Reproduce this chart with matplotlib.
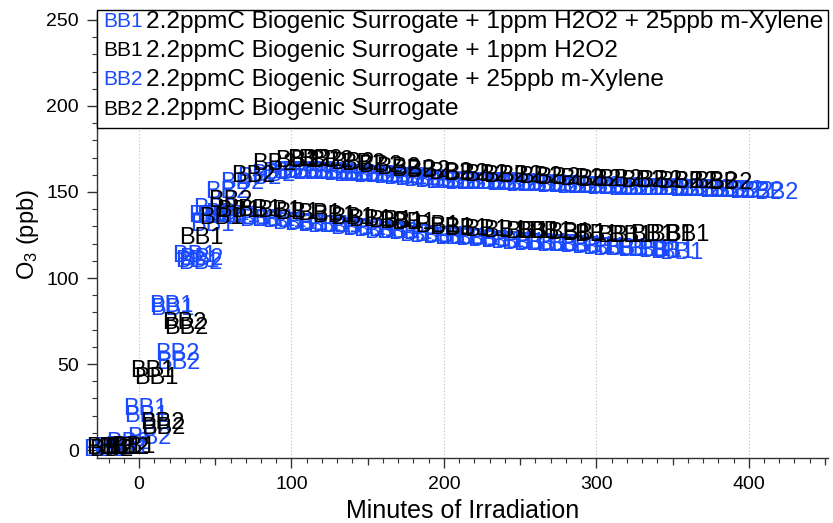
import matplotlib
matplotlib.use("Agg")
import matplotlib.pyplot as plt
from matplotlib.patches import Rectangle
from matplotlib.ticker import MultipleLocator

plt.rcParams["font.family"] = ["Liberation Sans", "DejaVu Sans"]
plt.rcParams["mathtext.fontset"] = "custom"
plt.rcParams["mathtext.rm"] = "Liberation Sans"
plt.rcParams["mathtext.it"] = "Liberation Sans"

# O3 (ppb) vs minutes of irradiation
bb1_xyl_t = [-22, -15, -8, 4, 5, 21, 22, 36, 38, 48, 52, 58, 65, 72, 80, 88, 95,
             102, 110, 118, 125, 132, 140, 148, 155, 162, 170, 178, 185, 192, 200,
             208, 215, 222, 230, 238, 245, 252, 260, 268, 275, 282, 290, 298, 305,
             312, 320, 328, 335, 342, 350, 356]
bb1_xyl_o3 = [0, 1, 2, 24, 20, 84, 82, 113, 110, 131, 136, 137, 136, 135, 134, 133.5, 133,
              132, 131.5, 131, 130.5, 130, 129, 128.5, 128, 127, 126.5, 126, 125, 124.5, 124,
              123.5, 123, 122.5, 122, 121.5, 121, 120.5, 120, 119.5, 119, 119, 118.5, 118, 117.5,
              117, 117, 116.5, 116, 115.5, 115, 114.5]

bb1_t = [-20, -12, -4, 9, 11, 41, 54, 65, 79, 92, 104, 118, 128, 140, 152, 165, 172,
         180, 196, 205, 215, 228, 240, 255, 262, 270, 282, 292, 300, 315, 322, 337, 349, 360]
bb1_o3 = [1, 1, 2, 46, 42, 123, 135, 139, 139.5, 139, 138, 137, 136, 135, 134, 133, 132.5,
          132, 130, 129, 128.5, 128, 127.5, 127, 127, 126.5, 126, 125.5, 125, 124.5, 124.5,
          125, 125, 125]

bb2_xyl_t = [-7, 7, 25, 26, 40, 41, 47, 50, 58, 68, 79, 88, 95, 102, 108, 115, 122, 128,
             135, 142, 148, 155, 162, 168, 175, 182, 188, 195, 202, 208, 215, 222, 228, 235,
             242, 248, 255, 262, 268, 275, 282, 288, 295, 302, 308, 315, 322, 328, 335, 342,
             348, 355, 362, 368, 375, 382, 388, 395, 402, 408, 418]
bb2_xyl_o3 = [4, 7, 56, 50.5, 109, 111, 136, 140, 150, 155, 158, 160, 161, 161.5, 161.5,
              161.5, 161, 161, 160.5, 160, 160, 159.5, 159, 158.5, 158, 157.5, 157, 156.5,
              156, 156, 155.5, 155.5, 155, 155, 154.5, 154.5, 154, 154, 154, 153.5, 153.5,
              153, 153, 153, 152.5, 152.5, 152, 152, 152, 151.5, 151.5, 151.5, 151, 151, 151,
              150.5, 150.5, 150.5, 150, 150, 149.5]

bb2_t = [-18, -8, 15, 16, 30, 31, 60, 75, 89, 104, 112, 119, 126, 140, 147, 158, 170, 180,
         190, 204, 215, 228, 240, 250, 263, 275, 290, 302, 316, 330, 342, 355, 365, 378, 388]
bb2_o3 = [0, 1, 15.5, 13, 74, 71, 145, 159, 166, 168, 168.5, 168.5, 168, 167, 166.5, 165,
          164, 163, 162, 161, 160.5, 160, 159.5, 159, 158.5, 158, 157.5, 157, 157, 156.5,
          156.5, 156, 156, 156, 155.5]

labels = ["BB1", "BB1", "BB2", "BB2"]
descriptions = [
    "2.2ppmC Biogenic Surrogate + 1ppm H2O2 + 25ppb m-Xylene",
    "2.2ppmC Biogenic Surrogate + 1ppm H2O2",
    "2.2ppmC Biogenic Surrogate + 25ppb m-Xylene",
    "2.2ppmC Biogenic Surrogate",
]
blue = "#1a4aff"
colors = [blue, "black", blue, "black"]

series = [
    (bb1_xyl_t, bb1_xyl_o3, 0),
    (bb2_xyl_t, bb2_xyl_o3, 2),
    (bb1_t, bb1_o3, 1),
    (bb2_t, bb2_o3, 3),
]

fig = plt.figure(figsize=(8.33, 5.23), dpi=100)
ax = fig.add_axes([97 / 833, 65 / 523, 731 / 833, 446 / 523])
ax.set_xlim(-27.6, 452)
ax.set_ylim(-4.6, 254.6)

# text markers
for t, o3, i in series:
    for x, y in zip(t, o3):
        ax.text(x, y, labels[i], color=colors[i], fontsize=17,
                ha="center", va="center", zorder=3)

ax.spines["top"].set_visible(False)
ax.spines["right"].set_visible(False)
for s in ["left", "bottom"]:
    ax.spines[s].set_color("#333333")
    ax.spines[s].set_linewidth(1)

ax.xaxis.set_major_locator(MultipleLocator(100))
ax.xaxis.set_minor_locator(MultipleLocator(10))
ax.yaxis.set_major_locator(MultipleLocator(50))
ax.yaxis.set_minor_locator(MultipleLocator(10))
ax.tick_params(which="major", length=7, width=1, color="#333333", labelsize=14, pad=6)
ax.tick_params(which="minor", length=3.5, width=0.8, color="#333333")

# medium ticks at the half-hundreds
mid = ax.secondary_xaxis("bottom")
mid.set_xticks([50, 150, 250, 350, 450])
mid.tick_params(length=5, width=0.9, color="#333333", labelbottom=False)
mid.spines["bottom"].set_visible(False)

ax.grid(axis="x", which="major", linestyle=(0, (1, 2)), color="#bbbbbb", linewidth=0.8)
ax.set_axisbelow(True)

ax.set_xlabel("Minutes of Irradiation", fontsize=18, labelpad=4)
ax.set_ylabel("O$_3$ (ppb)", fontsize=17)
ax.yaxis.set_label_coords(-0.077, 0.5)

# legend box
ax.add_patch(Rectangle((0, 0.74), 1.0, 0.265, transform=ax.transAxes,
                       facecolor="white", edgecolor="black", linewidth=1,
                       clip_on=False, zorder=5))
for k in range(4):
    yy = 0.978 - k * 0.0652
    ax.text(0.008, yy, labels[k], color=colors[k], fontsize=15,
            transform=ax.transAxes, va="center", ha="left", zorder=6)
    ax.text(0.0665, yy, descriptions[k], color="black", fontsize=17.6,
            transform=ax.transAxes, va="center", ha="left", zorder=6)

fig.savefig("out.png", dpi=100)
